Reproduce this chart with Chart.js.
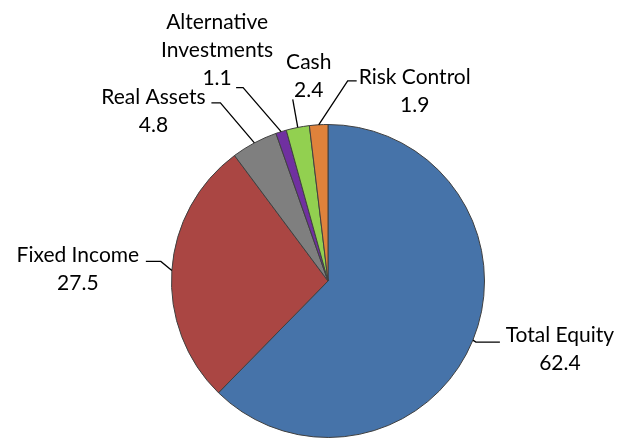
<!DOCTYPE html>
<html>
<head>
<meta charset="utf-8">
<script src="https://cdn.jsdelivr.net/npm/chart.js@4/dist/chart.umd.min.js"></script>
<style>
  html, body { margin: 0; padding: 0; background: #fff; }
  #wrap { width: 618px; height: 438px; }
</style>
</head>
<body>
<div id="wrap"><canvas id="chart" width="618" height="438"></canvas></div>
<script>
const categories = ["Total Equity", "Fixed Income", "Real Assets", "Alternative Investments", "Cash", "Risk Control"];
const values = [62.4, 27.5, 4.8, 1.1, 2.4, 1.9];
const colors = ["#4673A9", "#AA4643", "#7F7F7F", "#7030A0", "#92D050", "#DF823B"];

// label text lines and where each label sits relative to its slice edge
const labelLines = [
  ["Total Equity"],
  ["Fixed Income"],
  ["Real Assets"],
  ["Alternative", "Investments"],
  ["Cash"],
  ["Risk Control"],
];
const labelLayout = [
  { dx: 87, dy: -5, elbow: [3, 2], end: [27, 2] },
  { dx: -94, dy: -15, elbow: [-11, -9], end: [-26, -9] },
  { dx: -101, dy: -46, elbow: [-34, -40], end: [-43, -40] },
  { dx: -64, dy: -109, elbow: [-38, -44], end: [-45, -44] },
  { dx: 11, dy: -65, elbow: [-5, -28], end: [-5, -28] },
  { dx: 96, dy: -48, elbow: [29, -44], end: [38, -44] },
];

const leaderLabels = {
  id: "leaderLabels",
  afterDatasetsDraw(chart) {
    const ctx = chart.ctx;
    const meta = chart.getDatasetMeta(0);
    ctx.save();
    ctx.font = "21px Lato";
    ctx.fillStyle = "#000";
    ctx.strokeStyle = "#000";
    ctx.lineWidth = 1.3;
    ctx.textAlign = "center";
    ctx.textBaseline = "middle";
    meta.data.forEach((arc, i) => {
      const mid = (arc.startAngle + arc.endAngle) / 2;
      const ax = arc.x + Math.cos(mid) * arc.outerRadius;
      const ay = arc.y + Math.sin(mid) * arc.outerRadius;
      const l = labelLayout[i];
      ctx.beginPath();
      ctx.moveTo(ax, ay);
      ctx.lineTo(ax + l.elbow[0], ay + l.elbow[1]);
      ctx.lineTo(ax + l.end[0], ay + l.end[1]);
      ctx.stroke();
      const lines = labelLines[i].concat([values[i].toFixed(1)]);
      lines.forEach((t, k) => {
        ctx.fillText(t, ax + l.dx, ay + l.dy + k * 28);
      });
    });
    ctx.restore();
  },
};

new Chart(document.getElementById("chart"), {
  type: "pie",
  data: {
    labels: categories,
    datasets: [{
      data: values,
      backgroundColor: colors,
      borderColor: "#404040",
      borderWidth: 1,
    }],
  },
  options: {
    responsive: false,
    animation: false,
    layout: { padding: { left: 170, right: 132, top: 124, bottom: 0 } },
    plugins: {
      legend: { display: false },
      tooltip: { enabled: false },
    },
  },
  plugins: [leaderLabels],
});
</script>
</body>
</html>
